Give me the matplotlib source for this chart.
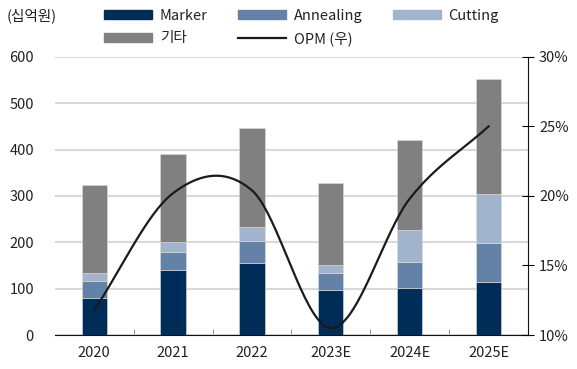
import matplotlib
matplotlib.use('agg')
import matplotlib.pyplot as plt
from matplotlib.patches import Patch
from matplotlib.lines import Line2D
import numpy as np

plt.rcParams['font.family'] = ['Noto Sans CJK KR', 'DejaVu Sans']

years = ['2020', '2021', '2022', '2023E', '2024E', '2025E']
marker = [80, 140, 156, 97, 101, 114]
annealing = [37, 39, 47, 37, 57, 85]
cutting = [17, 21, 30, 17, 69, 105]
others = [190, 191, 213, 177, 194, 248]
opm = [11.8, 20.2, 20.4, 10.5, 19.8, 25.0]

COLORS = {
    'marker': '#002d58',
    'annealing': '#6482a8',
    'cutting': '#a2b3cd',
    'others': '#808080',
}


def smooth(x, y, n=40):
    # catmull-rom like excel smoothed line
    x = np.asarray(x, float)
    y = np.asarray(y, float)
    xs, ys = [], []
    for i in range(len(x) - 1):
        p0 = y[i - 1] if i > 0 else y[i]
        p3 = y[i + 2] if i + 2 < len(y) else y[i + 1]
        p1, p2 = y[i], y[i + 1]
        m1 = (p2 - p0) / (2 if i > 0 else 1)
        m2 = (p3 - p1) / (2 if i + 2 < len(y) else 1)
        t = np.linspace(0, 1, n)
        h = (2*t**3 - 3*t**2 + 1) * p1 + (t**3 - 2*t**2 + t) * m1 \
            + (-2*t**3 + 3*t**2) * p2 + (t**3 - t**2) * m2
        xs.append(x[i] + t * (x[i + 1] - x[i]))
        ys.append(h)
    return np.concatenate(xs), np.concatenate(ys)


fig = plt.figure(figsize=(5.77, 3.69), dpi=100)
ax = fig.add_axes([0.095, 0.092, 0.82, 0.754])
x = np.arange(len(years))
w = 0.32

bottom = np.zeros(len(years))
for vals, key in [(marker, 'marker'), (annealing, 'annealing'), (cutting, 'cutting'), (others, 'others')]:
    ax.bar(x, vals, w, bottom=bottom, color=COLORS[key], edgecolor='#dddddd', linewidth=0.4, zorder=3)
    bottom += np.array(vals)

ax.set_ylim(0, 600)
ax.set_yticks(range(0, 601, 100))
ax.set_xlim(-0.5, len(years) - 0.5)
ax.set_xticks(x)
ax.set_xticklabels(years)
ax.set_xticks(np.arange(0.5, len(years) - 1, 1), minor=True)
ax.tick_params(axis='x', which='major', length=0, pad=8)
ax.tick_params(axis='x', which='minor', length=4, direction='in', color='#777777')
ax.tick_params(axis='y', length=0, pad=15)
ax.tick_params(labelsize=10.5, labelcolor='#222222')
ax.grid(axis='y', color='#d9d9d9', linewidth=1.5, zorder=0)
for s in ['top', 'left', 'right']:
    ax.spines[s].set_visible(False)
ax.spines['bottom'].set_color('#111111')

ax2 = ax.twinx()
sx, sy = smooth(x, opm)
ax2.plot(sx, sy, color='#1a1a1a', linewidth=1.6, zorder=5)
ax2.set_ylim(10, 30)
ax2.set_yticks([10, 15, 20, 25, 30])
ax2.set_yticklabels(['10%', '15%', '20%', '25%', '30%'])
ax2.tick_params(axis='y', direction='inout', length=8, labelsize=10.5, labelcolor='#222222', pad=4)
for s in ['top', 'left', 'bottom']:
    ax2.spines[s].set_visible(False)
ax2.spines['right'].set_color('#111111')

fig.text(0.012, 0.958, '(십억원)', fontsize=10.5, color='#222222', va='center')

handles = [
    Patch(color=COLORS['marker'], label='Marker'),
    Patch(color=COLORS['others'], label='기타'),
    Patch(color=COLORS['annealing'], label='Annealing'),
    Line2D([], [], color='#1a1a1a', linewidth=1.6, label='OPM (우)'),
    Patch(color=COLORS['cutting'], label='Cutting'),
]
fig.legend(handles=handles, ncol=3, loc='upper left', bbox_to_anchor=(0.158, 1.012),
           frameon=False, fontsize=10.5, handlelength=3.3, handleheight=0.55,
           columnspacing=2.1, handletextpad=0.5, labelspacing=0.6,
           labelcolor='#222222')

fig.savefig('out.png', dpi=100)
